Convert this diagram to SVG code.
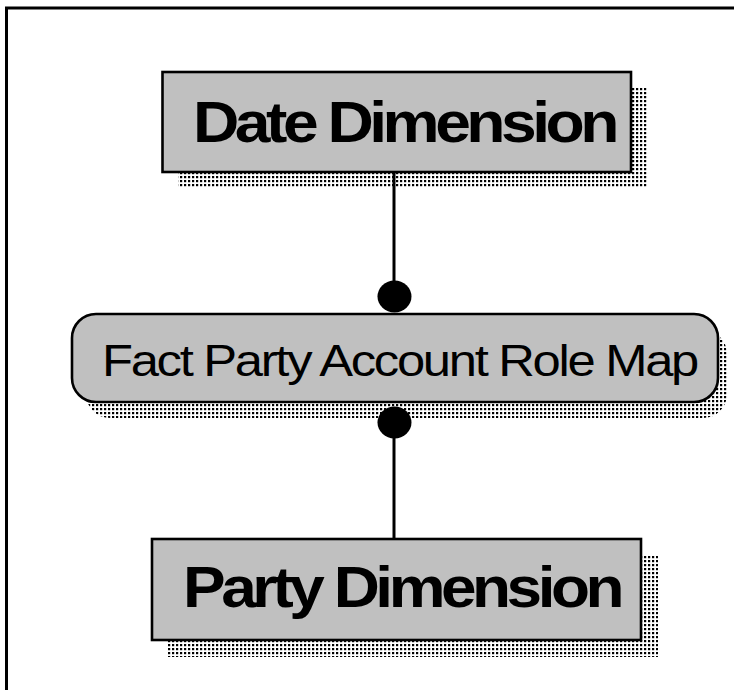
<svg xmlns="http://www.w3.org/2000/svg" width="734" height="690" viewBox="0 0 734 690">
  <defs>
    <pattern id="dots" x="0" y="0" width="4" height="4" patternUnits="userSpaceOnUse">
      <rect x="0" y="0" width="2.2" height="2.2" fill="#000"/>
    </pattern>
  </defs>
  <style>
    .box { fill: #c0c0c0; stroke: #000; stroke-width: 2.6; }
    .shadow { fill: url(#dots); stroke: none; }
    .big { font-family: "Liberation Sans", Arial, sans-serif; font-weight: bold; font-size: 57px; letter-spacing: -4px; fill: #000; }
    .reg { font-family: "Liberation Sans", Arial, sans-serif; font-size: 44px; letter-spacing: -2px; fill: #000; }
    .conn { stroke: #000; stroke-width: 3; fill: none; }
  </style>
  <rect x="0" y="0" width="734" height="690" fill="#fff"/>
  <path d="M6.5,690 V8 H734" fill="none" stroke="#000" stroke-width="3"/>

  <g id="date-dimension">
    <rect class="shadow" x="178" y="88" width="470" height="100"/>
    <rect class="box" x="162.5" y="72" width="468.5" height="100"/>
    <text class="big" x="193" y="141.5" textLength="422" lengthAdjust="spacingAndGlyphs">Date Dimension</text>
  </g>

  <g id="fact-party-account-role-map">
    <rect class="shadow" x="86" y="330" width="641" height="88" rx="24"/>
    <rect class="box" x="72" y="314" width="646" height="88" rx="24"/>
    <text class="reg" x="102" y="376" textLength="595" lengthAdjust="spacingAndGlyphs">Fact Party Account Role Map</text>
  </g>

  <g id="party-dimension">
    <rect class="shadow" x="168" y="555" width="490" height="102"/>
    <rect class="box" x="152" y="539" width="489" height="101"/>
    <text class="big" x="183" y="607" textLength="437" lengthAdjust="spacingAndGlyphs">Party Dimension</text>
  </g>

  <g id="connectors">
    <line class="conn" x1="394" y1="172" x2="394" y2="285"/>
    <ellipse cx="394.5" cy="296.5" rx="17" ry="16" fill="#000"/>
    <ellipse cx="394.5" cy="422.5" rx="17" ry="16" fill="#000"/>
    <line class="conn" x1="394" y1="435" x2="394" y2="539"/>
  </g>
</svg>
